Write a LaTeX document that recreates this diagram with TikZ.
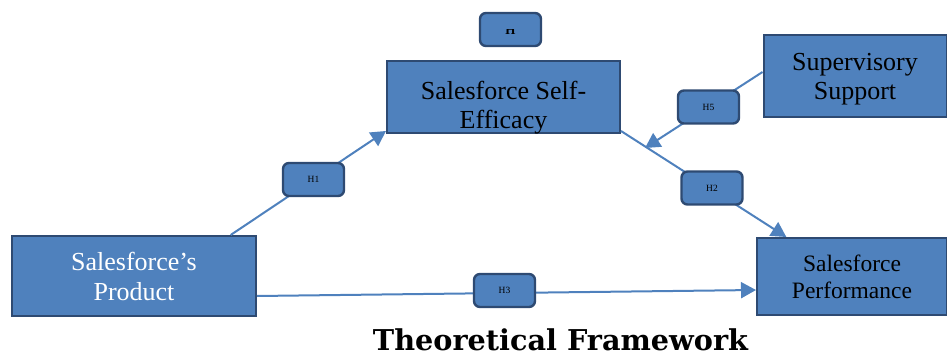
\documentclass[tikz,border=0pt]{standalone}
\usepackage{fontspec}
\usepackage{graphicx}
\setmainfont{Liberation Serif}
\newfontfamily\titlefont{DejaVu Serif}
\usetikzlibrary{arrows.meta,calc}
\definecolor{boxfill}{HTML}{4F81BD}
\definecolor{boxline}{HTML}{2E4A72}
\definecolor{linkcol}{HTML}{4F81BD}
\begin{document}
\begin{tikzpicture}[x=1pt,y=-1pt,
  bigbox/.style={draw=boxline,line width=2pt,fill=boxfill,inner sep=0pt,
    align=center,font=\fontsize{26}{30}\selectfont},
  boxtext/.style={inner sep=0pt,align=center,font=\fontsize{26}{29}\selectfont},
  tag/.style={draw=boxline,line width=2.4pt,fill=boxfill,rounded corners=6pt,
    minimum width=61pt,minimum height=33pt,inner sep=0pt,
    font=\fontsize{9.5}{11}\selectfont},
  link/.style={draw=linkcol,line width=2pt,
    -{Triangle[length=15pt,width=16pt]}}]
\useasboundingbox (0,0) rectangle (947,358);

% main constructs
\node[bigbox,minimum width=233pt,minimum height=72pt] (se) at (503.5,97) {};
\begin{scope}
  \clip (se.north west) rectangle (se.south east);
  \node[boxtext] (setext) at (503.5,108) {Salesforce Self-\\Efficacy};
\end{scope}
\node[bigbox,minimum width=183pt,minimum height=82pt] (sup) at (855,76) {};
\node[boxtext] (suptext) at (855,79) {Supervisory\\Support};
\node[bigbox,minimum width=244pt,minimum height=80pt,text=white] (prod) at (134,276)
  {Salesforce’s\\Product};
\node[bigbox,minimum width=190pt,minimum height=77pt,
  font=\fontsize{23.5}{27}\selectfont] (perf) at (852,276.5)
  {Salesforce\\Performance};

% hypothesis paths
\coordinate (h5end) at (645,148);
\draw[link] ($(prod.north west)!0.893!(prod.north east)$) -- ($(se.south west)+(0,-3)$);
\draw[link] ($(sup.west)+(0,-4)$) -- (h5end);
\draw[link] ($(se.south east)+(0,-3)$) -- ($(perf.north west)!0.158!(perf.north east)$);
\draw[link] ($(prod.east)+(0,20)$) -- ($(perf.west)+(0,13.5)$);

% hypothesis tags (the top one shows only the lower part of its letter)
\node[tag] (h) at (510.5,29.5) {};
\begin{scope}
  \clip ($(h.west)+(0,0.3)$) rectangle (h.south east);
  \node[font=\fontsize{13}{14}\selectfont\bfseries,inner sep=0pt] (htext) at (510.5,30.5) {H};
\end{scope}
\node[tag] (h1) at (313.5,179.5) {H1};
\node[tag] (h5) at (708.5,107) {H5};
\node[tag] (h2) at (712,188) {H2};
\node[tag] (h3) at (504.5,290.5) {H3};

% caption
\node (title) at (560.5,340) {\resizebox{375pt}{!}{\titlefont\bfseries Theoretical Framework}};
\end{tikzpicture}
\end{document}
